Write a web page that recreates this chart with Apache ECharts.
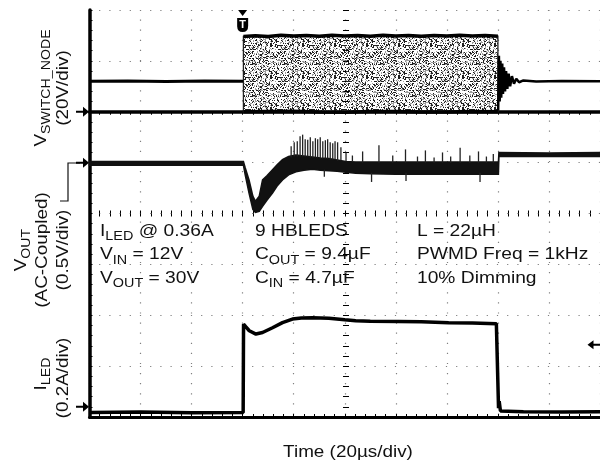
<!DOCTYPE html>
<html><head><meta charset="utf-8">
<script src="https://cdn.jsdelivr.net/npm/echarts@6/dist/echarts.min.js"></script>
<style>html,body{margin:0;padding:0;background:#fff}#c{width:600px;height:466px}</style>
</head><body><div id="c"></div>
<script>
// ---------------- data (read from the scope capture) ----------------
// time axis: 0..200 us, 20 us/div ; trigger at 60 us, PWM off at 160 us
const timeMin = 0, timeMax = 200, timeDiv = 20;
const triggerTime = 60;

// V_SWITCH_NODE (volts), 20 V/div, ground 6 div above bottom
const switchBefore = [[0, 12], [15, 12.1], [30, 11.9], [45, 12.1], [60.2, 12]];
const switchHigh = [[60.3, 29.6], [65, 29.9], [70, 29.6], [75, 30.1], [80, 29.8], [85, 30], [90, 29.7], [95, 30.1], [100, 29.8], [105, 30], [110, 29.7], [115, 30.1], [120, 29.8], [125, 30], [130, 29.7], [135, 30], [140, 29.8], [145, 30.1], [150, 29.8], [155, 30], [160, 29.7]];
const switchLow = [[60.3, 0], [70, 0.1], [80, 0.2], [90, -0.1], [100, -0.2], [110, 0.1], [120, 0.1], [130, -0.1], [140, -0.1], [150, 0.1], [160, 0]];
const switchAfter = [[160.1, 0.5], [160.4, 22], [160.7, 4], [161.0, 20], [161.3, 5.5], [161.7, 19], [162.0, 7], [162.4, 17.5], [162.8, 8], [163.2, 16], [163.7, 9], [164.2, 15], [164.8, 10], [165.5, 14], [166.3, 11], [167.2, 13], [168.3, 11.6], [170, 12.3], [175, 11.9], [185, 12.1], [200, 12]];

// V_OUT AC-coupled (volts), 0.5 V/div, ground 5 div above bottom ; envelope of the trace
const voutT  = [0, 30, 60.3, 61, 62.5, 64, 65, 66.5, 67.8, 69.5, 71.7, 73.5, 75.6, 78, 80.9, 84, 87.3, 90.5, 93.8, 97, 100.4, 104.3, 110, 120, 130, 140, 150, 160.2, 160.4, 180, 200];
const voutHi = [0.012, 0.012, 0.012, -0.05, -0.17, -0.33, -0.38, -0.33, -0.17, -0.13, -0.07, -0.02, 0.03, 0.06, 0.075, 0.065, 0.055, 0.045, 0.04, 0.025, 0.01, 0.005, 0.005, 0.005, 0.005, 0.005, 0.005, 0.005, 0.1, 0.095, 0.1];
const voutLo = [-0.025, -0.025, -0.025, -0.12, -0.30, -0.46, -0.49, -0.48, -0.43, -0.37, -0.30, -0.23, -0.17, -0.12, -0.09, -0.075, -0.065, -0.075, -0.08, -0.085, -0.095, -0.105, -0.11, -0.115, -0.115, -0.115, -0.115, -0.115, 0.06, 0.06, 0.06];
// ripple spikes: [time, from, to]
const voutSpikes = [
  [79, 0.05, 0.16], [80.2, 0.06, 0.2], [81.4, 0.06, 0.21], [82.5, 0.06, 0.26], [83.5, 0.06, 0.275], [84.5, 0.06, 0.23],
  [85.5, 0.06, 0.226], [86.5, 0.05, 0.25], [87.5, 0.05, 0.21], [88.5, 0.05, 0.24], [89.4, 0.05, 0.23], [90.4, 0.04, 0.25],
  [91.4, 0.04, 0.21], [92.4, 0.04, 0.22], [93.3, 0.04, 0.23], [94.3, 0.03, 0.2], [95.3, 0.03, 0.19], [96.2, 0.03, 0.21],
  [97.2, 0.02, 0.2], [98.5, 0.02, 0.15], [100.5, 0.01, 0.1], [103, 0.005, 0.07],
  [107, 0.0, 0.11], [113.4, 0.0, 0.17], [118.8, 0.0, 0.07], [123.8, 0.0, 0.13], [128.5, 0.0, 0.06], [131.6, 0.0, 0.12],
  [135, 0.0, 0.05], [138.3, 0.0, 0.1], [141.5, 0.0, 0.06], [145.2, 0.0, 0.145], [149, 0.0, 0.07], [152.4, 0.0, 0.11],
  [155.5, 0.0, 0.06], [158.2, 0.0, 0.085],
  [92, -0.07, -0.14], [110.5, -0.1, -0.19], [124, -0.1, -0.18], [153, -0.1, -0.19]
];

// I_LED (amps), 0.2 A/div, ground 0.2 div above bottom
const iledT = [0, 20, 40, 60.2, 60.35, 61.2, 62.6, 65.2, 67.8, 71.7, 75.6, 79.5, 83, 87.3, 93.8, 100, 104.3, 110, 121, 130, 140.7, 150, 159.4, 160.1, 160.25, 160.5, 161, 170, 185, 200];
const iledA = [-0.022, -0.02, -0.023, -0.022, 0.325, 0.315, 0.299, 0.286, 0.292, 0.311, 0.331, 0.345, 0.349, 0.350, 0.348, 0.342, 0.338, 0.336, 0.335, 0.334, 0.331, 0.330, 0.327, 0.325, -0.005, 0.022, -0.016, -0.019, -0.02, -0.019];
const iledTriggerLevel = 0.244;

// text
const yLabels = {
  sw: ['V{s|SWITCH_NODE}', '(20V/div)'],
  vout: ['V{s|OUT}', '(AC-Coupled)', '(0.5V/div)'],
  iled: ['I{s|LED}', '(0.2A/div)']
};
const xLabel = 'Time (20\u00b5s/div)';
const notes = [
  ['I{s|LED} @ 0.36A', 'V{s|IN} = 12V', 'V{s|OUT} = 30V'],
  ['9 HBLEDS', 'C{s|OUT} = 9.4\u00b5F', 'C{s|IN} = 4.7\u00b5F'],
  ['L = 22\u00b5H', 'PWMD Freq = 1kHz', '10% Dimming']
];

// ---------------- chart ----------------
const FONT = '"Liberation Sans", Arial, Helvetica, sans-serif';
function speckle() {
  const n = 32, c = document.createElement('canvas');
  c.width = n; c.height = n;
  const g = c.getContext('2d');
  const img = g.createImageData(n, n);
  for (let y = 0; y < n; y++) for (let x = 0; x < n; x++) {
    let h = (x * 374761393 + y * 668265263) | 0;
    h = Math.imul(h ^ (h >>> 13), 1274126177);
    h = (h ^ (h >>> 16)) >>> 0;
    const i = (y * n + x) * 4;
    const v = h % 100;
    img.data[i] = img.data[i + 1] = img.data[i + 2] = v < 22 ? 30 : 90;
    img.data[i + 3] = v < 22 ? 255 : (v < 40 ? 150 : 0);
  }
  g.putImageData(img, 0, 0);
  return c;
}
const speckleCanvas = speckle();

const chart = echarts.init(document.getElementById('c'), null, { renderer: 'canvas' });
const K = '#000';
const gridTop = 10, gridBottomPx = 417, gridLeft = 89.5;
const arrowR = 'path://M0,4 L7,4 L7,0 L13,5 L7,10 L7,6 L0,6 Z';
const arrowL = 'path://M13,4 L6,4 L6,0 L0,5 L6,10 L6,6 L13,6 Z';
const shield = 'path://M0,0 L11,0 L11,8 Q11,14 5.5,14 Q0,14 0,8 Z';

const dotLine = (gap) => ({ color: '#808080', width: 1.2, type: [1.2, gap], dashOffset: 0.6 });
const tickStyle = { color: K, width: 1 };

const xBase = { type: 'value', min: timeMin, max: timeMax, interval: timeDiv, axisLabel: { show: false }, splitLine: { show: false } };
const yDiv = { type: 'value', min: 0, max: 8, interval: 1, axisLabel: { show: false }, splitLine: { show: false } };

function rich(fs, subLh) {
  return { s: { fontSize: Math.round(fs * 0.75), fontFamily: FONT, fill: '#111', lineHeight: subLh, verticalAlign: 'bottom' } };
}
function rotLabel(text, x, y) {
  return { type: 'text', x: x, y: y, rotation: Math.PI / 2, scaleX: 1.18, silent: true,
    style: { text: text, fontSize: 16, fontFamily: FONT, fill: '#111', align: 'center', verticalAlign: 'middle', lineHeight: 22, rich: rich(16, 14) } };
}
function noteBlock(lines, x, y) {
  return { type: 'text', x: x, y: y, scaleX: 1.2, silent: true,
    style: { text: lines.join('\n'), fontSize: 16, fontFamily: FONT, fill: '#111', align: 'left', verticalAlign: 'top', lineHeight: 23.5, rich: rich(16, 15) } };
}
// polygon between an upper and a lower curve, through the series' own axes
function bandItem(upper, lower, style) {
  return function (params, api) {
    const pts = upper.map(p => api.coord(p)).concat(lower.slice().reverse().map(p => api.coord(p)));
    return { type: 'polygon', shape: { points: pts }, style: style };
  };
}

const option = {
  animation: false,
  backgroundColor: '#fff',
  grid: { left: gridLeft, right: -2.5, top: gridTop, bottom: 466 - gridBottomPx },
  xAxis: [
    Object.assign({}, xBase, { position: 'bottom', axisLine: { lineStyle: { color: K, width: 3 } },
      axisTick: { inside: true, length: 3, lineStyle: tickStyle }, minorTick: { show: true, splitNumber: 5, length: 3, lineStyle: tickStyle },
      splitLine: { show: true, lineStyle: dotLine(8.9) } }),
    Object.assign({}, xBase, { position: 'top', axisLine: { lineStyle: { color: K, width: 3.5 } },
      axisTick: { inside: true, length: 3, lineStyle: tickStyle }, minorTick: { show: true, splitNumber: 5, length: 3, lineStyle: tickStyle } }),
    Object.assign({}, xBase, { position: 'bottom', offset: -(gridBottomPx - gridTop) / 2, axisLine: { show: false },
      axisTick: { inside: true, length: 3, lineStyle: tickStyle }, minorTick: { show: true, splitNumber: 5, length: 3, lineStyle: tickStyle } }),
    Object.assign({}, xBase, { position: 'bottom', offset: -(gridBottomPx - gridTop) / 2, axisLine: { show: false },
      axisTick: { inside: false, length: 3, lineStyle: tickStyle }, minorTick: { show: true, splitNumber: 5, length: 3, lineStyle: tickStyle } })
  ],
  yAxis: [
    Object.assign({}, yDiv, { position: 'left', axisLine: { lineStyle: { color: K, width: 3.5 } },
      axisTick: { inside: true, length: 3, lineStyle: tickStyle }, minorTick: { show: true, splitNumber: 5, length: 3, lineStyle: tickStyle },
      splitLine: { show: true, lineStyle: dotLine(9.0) } }),
    { type: 'value', show: false, min: -120, max: 40 },
    { type: 'value', show: false, min: -2.5, max: 1.5 },
    { type: 'value', show: false, min: -0.04, max: 1.56 },
    Object.assign({}, yDiv, { position: 'left', offset: -256.5, axisLine: { show: false },
      axisTick: { inside: true, length: 3, lineStyle: tickStyle }, minorTick: { show: true, splitNumber: 5, length: 3, lineStyle: tickStyle } }),
    Object.assign({}, yDiv, { position: 'left', offset: -256.5, axisLine: { show: false },
      axisTick: { inside: false, length: 3, lineStyle: tickStyle }, minorTick: { show: true, splitNumber: 5, length: 3, lineStyle: tickStyle } })
  ],
  series: [
    { name: 'swBandFill', type: 'custom', yAxisIndex: 1, data: [[triggerTime, 0]], encode: { x: 0, y: 1 }, silent: true,
      renderItem: bandItem(switchHigh, switchLow, { fill: { image: speckleCanvas, repeat: 'repeat' }, stroke: '#222', lineWidth: 1.3 }) },
    { name: 'swBefore', type: 'line', yAxisIndex: 1, data: switchBefore, symbol: 'none', lineStyle: { color: K, width: 3 } },
    { name: 'swHigh', type: 'line', yAxisIndex: 1, data: switchHigh, symbol: 'none', lineStyle: { color: K, width: 3.5 },
      markPoint: { label: { show: false }, data: [
        { coord: [triggerTime, 40], symbol: 'triangle', symbolRotate: 180, symbolSize: [9, 6], symbolOffset: [0, 3], itemStyle: { color: K } },
        { coord: [triggerTime, 40], symbol: shield, symbolSize: [11, 14], symbolOffset: [0, 15], itemStyle: { color: K },
          label: { show: true, formatter: 'T', color: '#fff', fontWeight: 'bold', fontSize: 11, fontFamily: FONT, position: 'inside' } }
      ] } },
    { name: 'swLow', type: 'line', yAxisIndex: 1, data: switchLow, symbol: 'none', lineStyle: { color: K, width: 3.5 },
      markPoint: { label: { show: false }, data: [ { coord: [0, 0], symbol: arrowR, symbolSize: [13, 10], symbolOffset: [-7, 0], itemStyle: { color: K } } ] } },
    { name: 'swAfter', type: 'line', yAxisIndex: 1, data: switchAfter, symbol: 'none', lineStyle: { color: K, width: 2.5 } },
    { name: 'voutBand', type: 'custom', yAxisIndex: 2, data: [[0, 0]], encode: { x: 0, y: 1 }, silent: true,
      renderItem: bandItem(voutT.map((t, i) => [t, voutHi[i]]), voutT.map((t, i) => [t, voutLo[i]]), { fill: '#111', stroke: '#111', lineWidth: 1.5 }),
      markPoint: { label: { show: false }, data: [ { coord: [0, 0], symbol: arrowR, symbolSize: [13, 10], symbolOffset: [-7, 0], itemStyle: { color: K } } ] } },
    { name: 'voutSpikes', type: 'custom', yAxisIndex: 2, data: voutSpikes, encode: { x: 0, y: [1, 2] }, silent: true,
      renderItem: function (params, api) {
        const a = api.coord([api.value(0), api.value(1)]);
        const b = api.coord([api.value(0), api.value(2)]);
        return { type: 'line', shape: { x1: a[0], y1: a[1], x2: b[0], y2: b[1] }, style: { stroke: '#222', lineWidth: 1.3 } };
      } },
    { name: 'iled', type: 'line', yAxisIndex: 3, symbol: 'none', data: iledT.map((t, i) => [t, iledA[i]]), lineStyle: { color: K, width: 3.5 },
      markPoint: { label: { show: false }, data: [
        { coord: [0, 0], symbol: arrowR, symbolSize: [13, 10], symbolOffset: [-7, 0], itemStyle: { color: K } },
        { coord: [timeMax, iledTriggerLevel], symbol: arrowL, symbolSize: [13, 9], symbolOffset: [-6, 0], itemStyle: { color: K } }
      ] } }
  ],
  graphic: [
    rotLabel(yLabels.sw[0], 42, 88), rotLabel(yLabels.sw[1], 64, 88),
    rotLabel(yLabels.vout[0], 22, 250), rotLabel(yLabels.vout[1], 43, 250), rotLabel(yLabels.vout[2], 64, 250),
    rotLabel(yLabels.iled[0], 42, 374), rotLabel(yLabels.iled[1], 64, 378),
    { type: 'polyline', silent: true, shape: { points: [[60, 201], [68, 201], [68, 163], [80, 163]] }, style: { stroke: '#111', lineWidth: 1.2, fill: null } },
    noteBlock(notes[0], 100, 219.5), noteBlock(notes[1], 255, 219.5), noteBlock(notes[2], 417, 219.5),
    { type: 'text', x: 348, y: 453, scaleX: 1.18, silent: true, style: { text: xLabel, fontSize: 16, fontFamily: FONT, fill: '#111', align: 'center', verticalAlign: 'middle' } }
  ]
};
chart.setOption(option);
</script>
</body></html>
